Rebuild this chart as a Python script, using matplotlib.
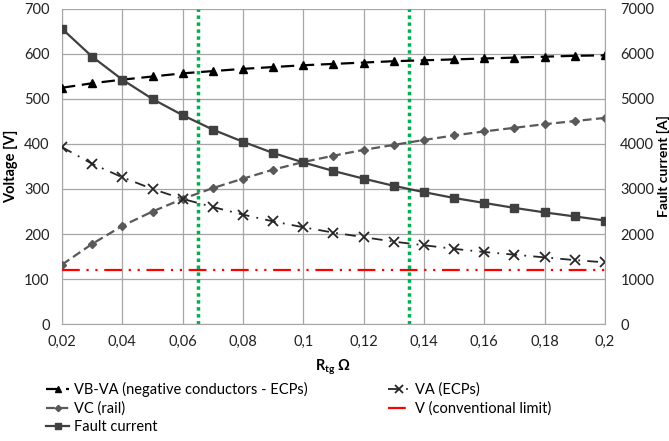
import matplotlib.pyplot as plt
from matplotlib.ticker import FuncFormatter

plt.rcParams['font.family'] = ['Lato', 'DejaVu Sans']

r_tg = [0.02, 0.03, 0.04, 0.05, 0.06, 0.07, 0.08, 0.09, 0.10, 0.11,
        0.12, 0.13, 0.14, 0.15, 0.16, 0.17, 0.18, 0.19, 0.20]
vb_va = [525, 535, 543, 550, 557, 562, 567, 571, 575, 578,
         581, 584, 586, 588, 590, 592, 594, 596, 597]
vc_rail = [132, 178, 218, 250, 278, 302, 323, 343, 360, 374,
           387, 398, 409, 419, 428, 436, 444, 451, 458]
va_ecp = [393, 356, 326, 300, 278, 260, 243, 228, 215, 203,
          193, 183, 175, 167, 160, 154, 148, 142, 137]
v_limit = [120] * len(r_tg)
fault_current = [6560, 5940, 5430, 5000, 4640, 4320, 4050, 3800, 3590, 3400,
                 3230, 3070, 2930, 2800, 2690, 2580, 2480, 2390, 2300]
green_marks = [0.065, 0.135]

fig = plt.figure(figsize=(6.69, 4.41), dpi=100)
ax = fig.add_axes([0.0927, 0.2653, 0.8116, 0.7143])
ax2 = ax.twinx()

grid_c = '#a6a6a6'
ax.set_xlim(0.02, 0.2)
ax.set_ylim(0, 700)
ax2.set_ylim(0, 7000)
ax.set_xticks([0.02 * i for i in range(1, 11)])
ax.set_yticks(range(0, 701, 100))
ax2.set_yticks(range(0, 7001, 1000))
ax.grid(True, color=grid_c, linewidth=0.9)
ax.set_axisbelow(True)

for a in (ax, ax2):
    for s in a.spines.values():
        s.set_visible(False)
    a.tick_params(length=0, labelsize=10.5, colors='#222222')
ax.spines['left'].set_visible(True)
ax.spines['left'].set_color(grid_c)
ax.spines['bottom'].set_visible(True)
ax.spines['bottom'].set_color(grid_c)
ax2.spines['right'].set_visible(True)
ax2.spines['right'].set_color(grid_c)

ax.xaxis.set_major_formatter(FuncFormatter(lambda v, p: ('%g' % round(v, 2)).replace('.', ',')))
ax.tick_params(axis='x', pad=8)
ax.tick_params(axis='y', pad=9)
ax2.tick_params(axis='y', pad=11)

for gx in green_marks:
    ax.axvline(gx, color='#00b050', linestyle=(0, (1, 1)), linewidth=2.5, zorder=2)

l1, = ax.plot(r_tg, vb_va, color='black', linestyle=(0, (6, 3)), linewidth=1.6,
              marker='^', markersize=6, zorder=4)
l2, = ax.plot(r_tg, vc_rail, color='#595959', linestyle=(0, (4, 2)), linewidth=1.6,
              marker='D', markersize=4, zorder=4)
l3, = ax.plot(r_tg, va_ecp, color='#262626', linestyle=(0, (6, 4, 1, 4)), linewidth=1.3,
              marker='x', markersize=7, markeredgewidth=1.3, zorder=4)
l4, = ax.plot(r_tg, v_limit, color='#ff0000', linestyle=(0, (8, 3, 1, 3, 1, 3)), linewidth=1.6,
              zorder=4)
l5, = ax2.plot(r_tg, fault_current, color='#404040', linestyle='-', linewidth=1.6,
               marker='s', markersize=6, zorder=4)

ax.set_ylabel('Voltage [V]', fontweight='bold', fontsize=10.5, labelpad=4)
ax2.set_ylabel('Fault current [A]', fontweight='bold', fontsize=10, labelpad=2)
ax.set_xlabel(r'R$_{\mathregular{tg}}$ Ω', fontweight='bold', fontsize=10.5, labelpad=6)

handles = [l1, l2, l5, l3, l4]
labels = ['VB-VA (negative conductors - ECPs)', 'VC (rail)', 'Fault current',
          'VA (ECPs)', 'V (conventional limit)']
fig.legend(handles, labels, loc='upper left', bbox_to_anchor=(0.06, 0.148), ncol=2,
           frameon=False, fontsize=10.5, handlelength=1.6, handletextpad=0.3,
           labelspacing=0.32, columnspacing=5.5, borderaxespad=0, markerscale=0.8)

fig.savefig('out.png', dpi=100)
